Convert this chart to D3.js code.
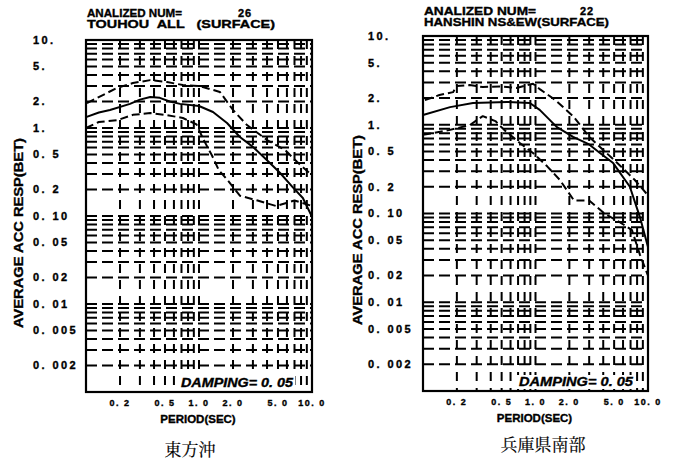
<!DOCTYPE html>
<html>
<head>
<meta charset="utf-8">
<script src="https://cdn.jsdelivr.net/npm/d3@7"></script>
<style>
  html, body { margin: 0; padding: 0; background: #fff; }
  svg { display: block; }
  text { font-family: "Liberation Sans", Arial, sans-serif; font-weight: bold; fill: #000; stroke: #000; stroke-width: 0.35px; }
</style>
</head>
<body>
<svg id="chart" width="686" height="465"></svg>
<script>
// Response-spectrum panels: average acceleration response (BET) vs period, 5% damping

const periodTickValues = [0.2, 0.5, 1, 2, 5, 10];
const periodTickLabels = ["0. 2", "0. 5", "1. 0", "2. 0", "5. 0", "10. 0"];
const accTickValues = [10, 5, 2, 1, 0.5, 0.2, 0.1, 0.05, 0.02, 0.01, 0.005, 0.002];
const accTickLabels = ["10.", "5.", "2.", "1.", "0. 5", "0. 2", "0. 10", "0. 05", "0. 02", "0. 01", "0. 005", "0. 002"];

// 東方沖 (TOUHOU ALL, surface, 26 records): [period, value]
const touhouMean = [[0.1,1.33],[0.13,1.5],[0.163,1.6],[0.245,1.88],[0.3,2.1],[0.37,2.25],[0.45,2.2],[0.55,2.0],[0.68,1.88],[1.0,1.78],[1.33,1.52],[1.77,1.14],[2.3,0.79],[3.0,0.61],[4.0,0.43],[5.2,0.31],[6.8,0.21],[8.3,0.16],[10,0.098]];
const touhouUpper = [[0.102,1.92],[0.141,2.37],[0.188,2.85],[0.26,3.24],[0.37,3.5],[0.52,3.33],[0.72,3.08],[1.02,2.99],[1.53,2.57],[2.0,1.6],[2.66,1.08],[4.0,0.73],[5.8,0.56],[7.4,0.41],[10,0.29]];
const touhouLower = [[0.1,1.0],[0.13,1.17],[0.19,1.23],[0.26,1.41],[0.37,1.48],[0.52,1.4],[0.72,1.3],[0.95,1.1],[1.1,0.73],[1.3,0.49],[1.5,0.33],[1.77,0.26],[2.3,0.17],[3.3,0.15],[4.8,0.13],[7.0,0.15],[10,0.13]];

// 兵庫県南部 (HANSHIN NS&EW, surface, 22 records)
const hanshinMean = [[0.1,1.29],[0.174,1.58],[0.278,1.76],[0.558,1.81],[0.89,1.76],[1.09,1.47],[1.55,0.94],[2.16,0.73],[3.0,0.6],[3.74,0.48],[4.9,0.37],[6.9,0.2],[8.5,0.09],[10,0.042]];
const hanshinUpper = [[0.104,1.9],[0.14,2.16],[0.185,2.33],[0.2,2.74],[0.26,2.8],[0.34,2.66],[0.48,2.7],[0.68,2.6],[0.95,2.9],[1.1,2.5],[1.5,1.9],[2.2,1.22],[3.0,0.73],[4.0,0.52],[5.6,0.35],[7.6,0.24],[10,0.16]];
const hanshinLower = [[0.1,0.77],[0.17,0.87],[0.26,0.99],[0.34,1.25],[0.44,1.1],[0.53,0.87],[0.73,0.62],[0.95,0.48],[1.27,0.34],[1.64,0.24],[2.2,0.14],[3.0,0.14],[4.1,0.1],[5.6,0.08],[7.2,0.065],[8.5,0.034],[10,0.02]];

const svg = d3.select("#chart");

function drawPanel(cfg) {
  const x = d3.scaleLog().domain([0.1, 10]).range([cfg.x0, cfg.x1]);
  const y = d3.scaleLog().domain([0.001, 10]).range([cfg.y1, cfg.y0]);
  const g = svg.append("g");

  // log grid: every 1..9 x decade, drawn as broken plotter lines
  const vLines = [];
  [0.1, 1].forEach(d => { for (let k = 1; k <= 9; k++) { const v = d * k; if (v > 0.1 && v < 10) vLines.push(v); } });
  const hLines = [];
  [0.001, 0.01, 0.1, 1].forEach(d => { for (let k = 1; k <= 9; k++) { const v = d * k; if (v > 0.001 && v < 10) hLines.push(v); } });

  g.append("g").selectAll("line").data(hLines).join("line")
    .attr("x1", cfg.x0).attr("x2", cfg.x1)
    .attr("y1", d => y(d)).attr("y2", d => y(d))
    .attr("stroke", "#000").attr("stroke-width", 2)
    .attr("stroke-dasharray", "11,5");

  g.append("g").selectAll("line").data(vLines).join("line")
    .attr("x1", d => x(d)).attr("x2", d => x(d))
    .attr("y1", cfg.y0).attr("y2", cfg.y1)
    .attr("stroke", "#000").attr("stroke-width", 2)
    .attr("stroke-dasharray", "9,7");

  // damping note with a blank box behind it
  g.append("rect")
    .attr("x", cfg.dampX - 2).attr("y", cfg.y1 - 16)
    .attr("width", cfg.dampW + 4).attr("height", 14)
    .attr("fill", "#fff");
  g.append("text")
    .attr("x", cfg.dampX).attr("y", cfg.y1 - 5)
    .attr("font-size", 12).attr("font-style", "italic")
    .attr("textLength", cfg.dampW).attr("lengthAdjust", "spacingAndGlyphs")
    .text("DAMPING= 0. 05");

  // frame
  g.append("rect")
    .attr("x", cfg.x0).attr("y", cfg.y0)
    .attr("width", cfg.x1 - cfg.x0).attr("height", cfg.y1 - cfg.y0)
    .attr("fill", "none").attr("stroke", "#000").attr("stroke-width", 2.2);

  // spectra
  const line = d3.line().x(d => x(d[0])).y(d => y(d[1]));
  const curves = [
    { data: cfg.mean, dash: null },
    { data: cfg.upper, dash: "8,4" },
    { data: cfg.lower, dash: "8,4" }
  ];
  g.append("g").selectAll("path").data(curves).join("path")
    .attr("d", d => line(d.data))
    .attr("fill", "none").attr("stroke", "#000").attr("stroke-width", 2)
    .attr("stroke-linejoin", "round")
    .attr("stroke-dasharray", d => d.dash);

  // y tick labels
  g.append("g").selectAll("text").data(accTickValues).join("text")
    .attr("x", cfg.yLabelX).attr("y", d => y(d)).attr("dy", "0.36em")
    .attr("font-size", 11).attr("letter-spacing", 2.4)
    .text((d, i) => accTickLabels[i]);

  // x tick labels
  g.append("g").selectAll("text").data(periodTickValues).join("text")
    .attr("x", d => x(d)).attr("y", cfg.y1 + 14)
    .attr("text-anchor", "middle")
    .attr("font-size", 9).attr("letter-spacing", 1.5)
    .text((d, i) => periodTickLabels[i]);

  // axis titles
  g.append("text")
    .attr("x", (cfg.x0 + cfg.x1) / 2 - 1).attr("y", cfg.y1 + 31)
    .attr("text-anchor", "middle").attr("font-size", 11.5)
    .text("PERIOD(SEC)");
  g.append("text")
    .attr("transform", `translate(${cfg.yTitleX},${cfg.yTitleY}) rotate(-90)`)
    .attr("text-anchor", "middle").attr("font-size", 12)
    .attr("textLength", 190).attr("lengthAdjust", "spacingAndGlyphs")
    .text("AVERAGE ACC RESP(BET)");

  // headers
  g.append("text").attr("x", cfg.x0 + 1).attr("y", cfg.titleY)
    .attr("font-size", 11).attr("textLength", cfg.numW).attr("lengthAdjust", "spacingAndGlyphs")
    .text("ANALIZED NUM=");
  g.append("text").attr("x", cfg.countX).attr("y", cfg.titleY)
    .attr("font-size", 11).attr("letter-spacing", 1)
    .text(cfg.count);
  g.append("text").attr("x", cfg.x0 + 1).attr("y", cfg.titleY + 11)
    .attr("font-size", 11).attr("textLength", cfg.nameW).attr("lengthAdjust", "spacingAndGlyphs")
    .attr("xml:space", "preserve")
    .text(cfg.name);

  // caption
  g.append("text")
    .attr("x", cfg.capX).attr("y", cfg.capY)
    .attr("text-anchor", "middle")
    .style("font-family", "'Noto Serif CJK JP','Noto Sans CJK JP',serif")
    .style("font-weight", "normal").style("stroke-width", "0.2px")
    .attr("font-size", 17)
    .text(cfg.caption);
}

drawPanel({
  x0: 86, x1: 312, y0: 40, y1: 392,
  mean: touhouMean, upper: touhouUpper, lower: touhouLower,
  yLabelX: 33, yTitleX: 23, yTitleY: 233,
  titleY: 17, numW: 95, countX: 238, count: "26", nameW: 188,
  name: "TOUHOU  ALL   (SURFACE)",
  dampX: 181, dampW: 112,
  caption: "東方沖", capX: 190, capY: 456
});

drawPanel({
  x0: 423, x1: 648, y0: 36, y1: 391,
  mean: hanshinMean, upper: hanshinUpper, lower: hanshinLower,
  yLabelX: 368, yTitleX: 362, yTitleY: 230,
  titleY: 15, numW: 112, countX: 580, count: "22", nameW: 185,
  name: "HANSHIN NS&EW(SURFACE)",
  dampX: 519, dampW: 114,
  caption: "兵庫県南部", capX: 543, capY: 451
});
</script>
</body>
</html>
